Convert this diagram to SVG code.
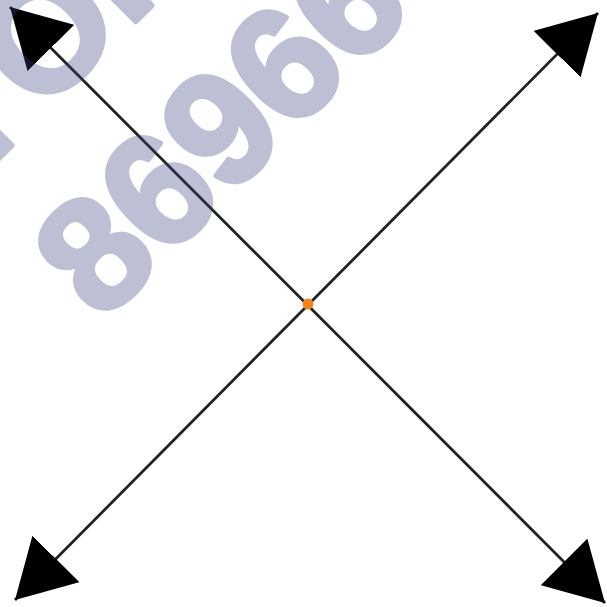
<svg xmlns="http://www.w3.org/2000/svg" width="607" height="607" viewBox="0 0 607 607">
  <style>
    .axis { stroke: #222; stroke-width: 2.8; fill: none; }
    .wm { font-family: "Liberation Sans", Arial, sans-serif; font-weight: bold; font-size: 160px; fill: #3a4082; stroke: #3a4082; stroke-width: 5; stroke-linejoin: round; }
  </style>
  <defs>
    <marker id="arrow" markerUnits="userSpaceOnUse" markerWidth="58" markerHeight="66" viewBox="0 0 58 66" refX="58" refY="33" orient="auto-start-reverse">
      <path d="M0,0 L58,33 L0,66 z" fill="#000"/>
    </marker>
  </defs>
  <rect width="607" height="607" fill="#fff"/>
  <g id="connectors">
    <line id="diag1" class="axis" x1="10" y1="7" x2="605" y2="603" marker-start="url(#arrow)" marker-end="url(#arrow)"/>
    <line id="diag2" class="axis" x1="598" y1="13" x2="15" y2="600" marker-start="url(#arrow)" marker-end="url(#arrow)"/>
  </g>
  <g id="center">
    <circle cx="308" cy="304" r="5.5" fill="#f5821f"/>
  </g>
  <g id="watermark" opacity="0.33" transform="translate(102,324) rotate(-45)">
    <text class="wm" x="0" y="0">86966</text>
    <text class="wm" x="29 103 227" y="-190">IOP</text>
  </g>
</svg>
